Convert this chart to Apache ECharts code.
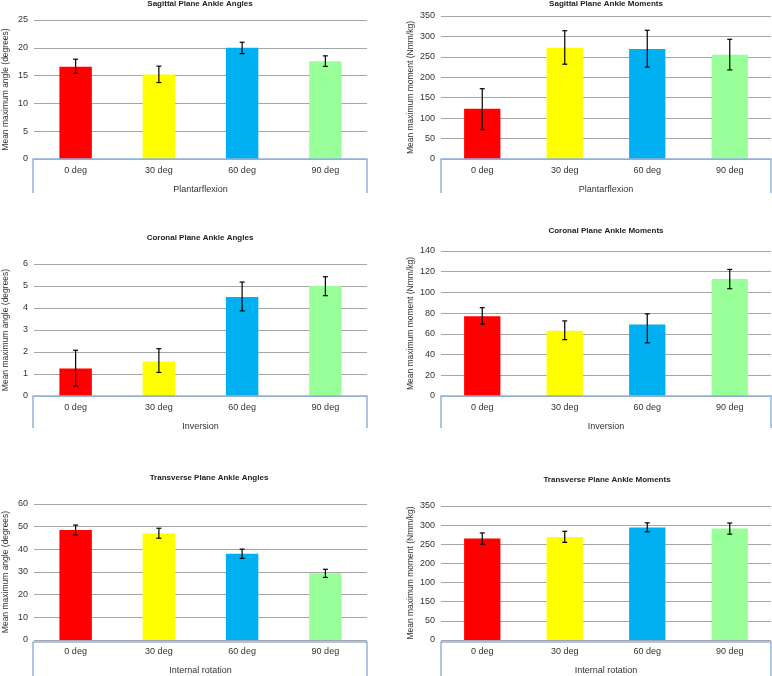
<!DOCTYPE html>
<html><head><meta charset="utf-8">
<script src="https://cdn.jsdelivr.net/npm/echarts@6/dist/echarts.min.js"></script>
<style>html,body{margin:0;padding:0;background:#fff}#c{width:772px;height:676px}</style>
</head><body><div id="c"></div>
<script>
// ---------- data ----------
const categories = ['0 deg', '30 deg', '60 deg', '90 deg'];

const sagAngleTitle = 'Sagittal Plane Ankle Angles';
const sagAngle = [16.6, 15.2, 20.0, 17.6];
const sagAngleErrUp = [1.35, 1.5, 1.0, 0.95];
const sagAngleErrDown = [1.2, 1.45, 1.05, 0.95];
const sagAngleTicks = ['0', '5', '10', '15', '20', '25'];

const sagMomentTitle = 'Sagittal Plane Ankle Moments';
const sagMoment = [123, 272, 269, 255];
const sagMomentErrUp = [49, 42, 46, 38];
const sagMomentErrDown = [51, 40, 44, 37];
const sagMomentTicks = ['0', '50', '100', '150', '200', '250', '300', '350'];

const corAngleTitle = 'Coronal Plane Ankle Angles';
const corAngle = [1.25, 1.57, 4.5, 5.0];
const corAngleErrUp = [0.83, 0.58, 0.68, 0.42];
const corAngleErrDown = [0.8, 0.5, 0.63, 0.44];
const corAngleTicks = ['0', '1', '2', '3', '4', '5', '6'];

const corMomentTitle = 'Coronal Plane Ankle Moments';
const corMoment = [77, 63, 69, 113];
const corMomentErrUp = [8.3, 9.5, 10.3, 9.2];
const corMomentErrDown = [7.6, 8.6, 17.7, 9.4];
const corMomentTicks = ['0', '20', '40', '60', '80', '100', '120', '140'];

const trAngleTitle = 'Transverse Plane Ankle Angles';
const trAngle = [48.5, 47.0, 38.0, 29.4];
const trAngleErrUp = [2.2, 2.3, 2.1, 1.8];
const trAngleErrDown = [2.1, 2.1, 2.0, 1.8];
const trAngleTicks = ['0', '10', '20', '30', '40', '50', '60'];

const trMomentTitle = 'Transverse Plane Ankle Moments';
const trMoment = [265, 269, 294, 291];
const trMomentErrUp = [14.6, 15, 12, 14.6];
const trMomentErrDown = [14.6, 14, 11.5, 14.6];
const trMomentTicks = ['0', '50', '150', '100', '200', '250', '300', '350'];

const angleAxisName = 'Mean maximum angle (degrees)';
const momentAxisName = 'Mean maximum moment (Nmm/kg)';
const groupNames = ['Plantarflexion', 'Plantarflexion', 'Inversion', 'Inversion', 'Internal rotation', 'Internal rotation'];

// ---------- styles / layout ----------
const barColors = ['#ff0000', '#ffff00', '#00b0f0', '#99ff99'];
const FONT = 'Liberation Sans, Arial, sans-serif';
const boxColor = '#8fb4dc';

const panels = [
  {title: sagAngleTitle, vals: sagAngle, up: sagAngleErrUp, dn: sagAngleErrDown, ticks: sagAngleTicks, interval: 5, yName: angleAxisName,
   grid: {left: 33, top: 20, width: 334, height: 139}, titleX: 200, titleY: 0, boxH: 34, nameGap: 24, barW: '39%'},
  {title: sagMomentTitle, vals: sagMoment, up: sagMomentErrUp, dn: sagMomentErrDown, ticks: sagMomentTicks, interval: 50, yName: momentAxisName,
   grid: {left: 441, top: 16, width: 330, height: 143}, titleX: 606, titleY: 0, boxH: 34, nameGap: 26, barW: '44%'},
  {title: corAngleTitle, vals: corAngle, up: corAngleErrUp, dn: corAngleErrDown, ticks: corAngleTicks, interval: 1, yName: angleAxisName,
   grid: {left: 33, top: 264, width: 334, height: 132}, titleX: 200, titleY: 234, boxH: 32, nameGap: 24, barW: '39%'},
  {title: corMomentTitle, vals: corMoment, up: corMomentErrUp, dn: corMomentErrDown, ticks: corMomentTicks, interval: 20, yName: momentAxisName,
   grid: {left: 441, top: 251, width: 330, height: 145}, titleX: 606, titleY: 227, boxH: 32, nameGap: 26, barW: '44%'},
  {title: trAngleTitle, vals: trAngle, up: trAngleErrUp, dn: trAngleErrDown, ticks: trAngleTicks, interval: 10, yName: angleAxisName,
   grid: {left: 33, top: 504, width: 334, height: 138}, titleX: 209, titleY: 474, boxH: 40, nameGap: 24, barW: '39%'},
  {title: trMomentTitle, vals: trMoment, up: trMomentErrUp, dn: trMomentErrDown, ticks: trMomentTicks, interval: 50, yName: momentAxisName,
   grid: {left: 441, top: 506, width: 330, height: 136}, titleX: 607, titleY: 476, boxH: 40, nameGap: 26, barW: '44%'}
];

const option = {
  animation: false,
  backgroundColor: '#ffffff',
  title: [], grid: [], xAxis: [], yAxis: [], series: [], graphic: []
};

panels.forEach((p, k) => {
  option.title.push({
    text: p.title, left: p.titleX, top: p.titleY, textAlign: 'center', padding: 0,
    textStyle: {fontFamily: FONT, fontSize: 8, fontWeight: 'bold', color: '#222'}
  });
  option.grid.push(Object.assign({containLabel: false}, p.grid));
  option.xAxis.push({
    type: 'category', gridIndex: k, data: categories,
    axisLine: {show: false}, axisTick: {show: false},
    axisLabel: {margin: 7, fontFamily: FONT, fontSize: 9, color: '#333'},
    name: groupNames[k], nameLocation: 'middle', nameGap: 26,
    nameTextStyle: {fontFamily: FONT, fontSize: 9, color: '#333'}
  });
  const maxV = (p.ticks.length - 1) * p.interval;
  option.yAxis.push({
    type: 'value', gridIndex: k, min: 0, max: maxV, interval: p.interval,
    axisLine: {show: false}, axisTick: {show: false},
    splitLine: {lineStyle: {color: '#a6a6a6', width: 1}},
    axisLabel: {margin: 6, fontFamily: FONT, fontSize: 9, color: '#333',
      formatter: (v) => p.ticks[Math.round(v / p.interval)]},
    name: p.yName, nameLocation: 'middle', nameGap: p.nameGap,
    nameTextStyle: {fontFamily: FONT, fontSize: 8.5, color: '#333'}
  });
  option.series.push({
    type: 'bar', xAxisIndex: k, yAxisIndex: k, barWidth: p.barW,
    data: p.vals.map((v, i) => ({value: v, itemStyle: {color: barColors[i]}}))
  });
  option.series.push({
    type: 'custom', xAxisIndex: k, yAxisIndex: k, z: 5,
    encode: {x: 0, y: [1, 2]},
    data: p.vals.map((v, i) => [i, v - p.dn[i], v + p.up[i]]),
    renderItem: (params, api) => {
      const x = api.value(0);
      const a = api.coord([x, api.value(2)]);
      const b = api.coord([x, api.value(1)]);
      const w = 2.5;
      const st = {stroke: '#000', lineWidth: 1.2};
      return {type: 'group', children: [
        {type: 'line', shape: {x1: a[0], y1: a[1], x2: b[0], y2: b[1]}, style: st},
        {type: 'line', shape: {x1: a[0] - w, y1: a[1], x2: a[0] + w, y2: a[1]}, style: st},
        {type: 'line', shape: {x1: b[0] - w, y1: b[1], x2: b[0] + w, y2: b[1]}, style: st}
      ]};
    }
  });
  const g = p.grid, y0 = g.top + g.height, x1 = g.left, x2 = g.left + g.width;
  option.graphic.push({
    type: 'polyline', z: 10, silent: true,
    shape: {points: [[x1, y0 + p.boxH], [x1, y0], [x2, y0], [x2, y0 + p.boxH]]},
    style: {stroke: boxColor, lineWidth: 1.5, fill: null}
  });
});

const chart = echarts.init(document.getElementById('c'), null, {renderer: 'canvas'});
chart.setOption(option);
</script>
</body></html>
